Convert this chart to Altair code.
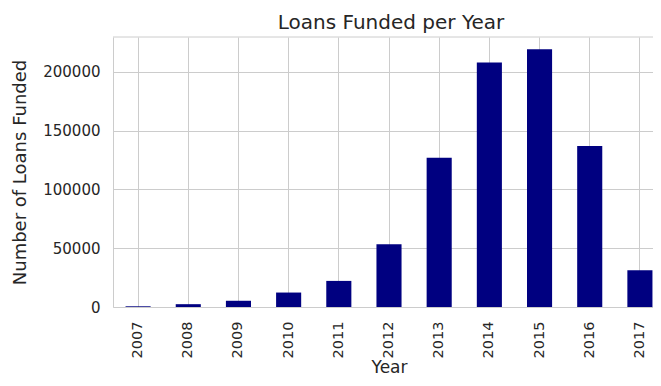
import altair as alt
import pandas as pd

years = ["2007", "2008", "2009", "2010", "2011", "2012", "2013", "2014", "2015", "2016", "2017"]
loans = [600, 2400, 5300, 12300, 22200, 53400, 127000, 208000, 219200, 137000, 31200]
y_ticks = [0, 50000, 100000, 150000, 200000]

df = pd.DataFrame({"Year": years, "Loans": loans})

PAD_L, PAD_T = 105, 29
W = 540          # visible plot width (svg is clipped at the right edge)
H = 270
RANGE = 552      # full band range, the last half band runs past the edge
FONT = "DejaVu Sans"
TXT = "#262626"
GRID = "#cccccc"

bars = alt.Chart(df).mark_bar(color="#000080").encode(
    x=alt.X(
        "Year:N",
        sort=years,
        scale=alt.Scale(range=[0, RANGE], paddingInner=0.5, paddingOuter=0.25),
        axis=alt.Axis(
            title="Year",
            labelAngle=-90,
            labelPadding=14,
            labelFontSize=14.5,
            labelFont=FONT,
            labelColor=TXT,
            titleFont=FONT,
            titleFontSize=17,
            titleFontWeight="normal",
            titleColor=TXT,
            titlePadding=2,
            ticks=False,
            grid=True,
            gridColor=GRID,
            bandPosition=0.5,
            domainColor=GRID,
        ),
    ),
    y=alt.Y(
        "Loans:Q",
        scale=alt.Scale(domain=[0, 229700], nice=False),
        axis=alt.Axis(
            title="Number of Loans Funded",
            values=y_ticks,
            format="d",
            labelPadding=13,
            labelFontSize=15,
            labelFont=FONT,
            labelColor=TXT,
            titleFont=FONT,
            titleFontSize=18,
            titleFontWeight="normal",
            titleColor=TXT,
            titlePadding=13,
            ticks=False,
            grid=True,
            gridColor=GRID,
            domainColor=GRID,
        ),
    ),
)

top = alt.Chart(pd.DataFrame({"a": [0]})).mark_rule(color=GRID, strokeWidth=1).encode(
    y=alt.value(0), x=alt.value(0), x2=alt.value(RANGE)
)

chart = alt.layer(top, bars).properties(
    width=W,
    height=H,
    autosize=alt.AutoSizeParams(type="none"),
    padding={"left": PAD_L, "top": PAD_T, "right": 0, "bottom": 370 - PAD_T - H},
    title=alt.TitleParams(
        "Loans Funded per Year",
        fontSize=20,
        font=FONT,
        fontWeight="normal",
        color=TXT,
        offset=4,
        dx=8,
    ),
).configure_view(stroke="transparent")

chart.save("out.html", embed_options={"renderer": "svg", "actions": False})
